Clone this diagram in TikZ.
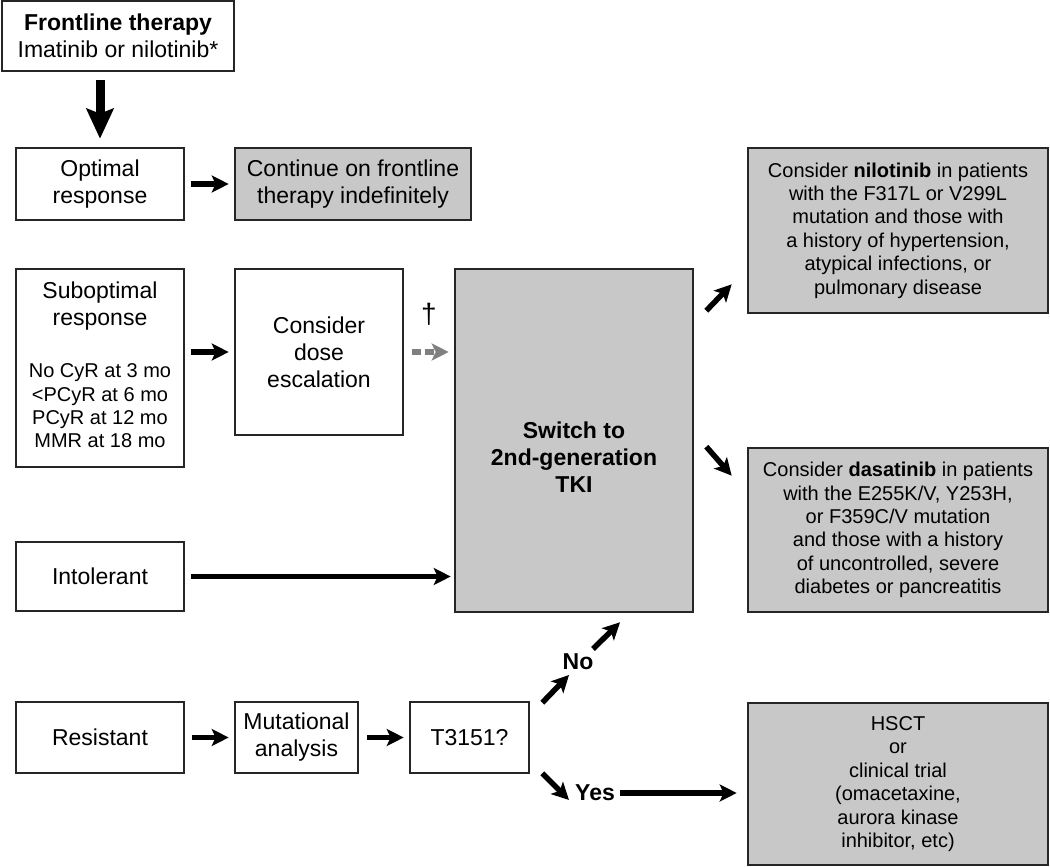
\documentclass[tikz,border=0pt]{standalone}
\usepackage{fontspec}
\setmainfont{Liberation Sans}
\usetikzlibrary{arrows.meta}
\definecolor{boxgray}{RGB}{200,200,200}
\definecolor{dashgray}{RGB}{128,128,128}
\begin{document}
\begin{tikzpicture}[x=1pt,y=-1pt,
	box/.style={draw=black!85,line width=2.6pt,align=center,inner sep=0pt,font=\fontsize{23}{27}\selectfont},
	graybox/.style={box,fill=boxgray},
	small/.style={align=center,inner sep=0pt,font=\fontsize{20}{23.4}\selectfont},
	big/.style={align=center,inner sep=0pt,font=\fontsize{23}{27}\selectfont},
	arr/.style={line width=5.5pt,-{Stealth[length=17pt,width=17pt,inset=4pt]}}]
\useasboundingbox (0,0) rectangle (1050,867);
% left column
\node[box,minimum width=232pt,minimum height=70pt] (front) at (118,36) {\textbf{Frontline therapy}\\Imatinib or nilotinib*};
\node[box,minimum width=168pt,minimum height=72pt] (opt) at (100,184) {Optimal\\response};
\node[box,minimum width=168pt,minimum height=198pt] (sub) at (100,368) {};
\node[big] (subtitle) at (100,306.5) {Suboptimal\\response};
\node[small] (sublist) at (100,406) {No CyR at 3 mo\\<PCyR at 6 mo\\PCyR at 12 mo\\MMR at 18 mo};
\node[box,minimum width=168pt,minimum height=69pt] (intol) at (100,576.5) {Intolerant};
\node[box,minimum width=168pt,minimum height=71pt] (resist) at (100,737.5) {Resistant};
% middle
\node[graybox,minimum width=236pt,minimum height=72pt] (cont) at (353,184) {Continue on frontline\\therapy indefinitely};
\node[box,minimum width=168pt,minimum height=166pt] (dose) at (319,352) {Consider\\dose\\escalation};
\node[box,minimum width=123pt,minimum height=71pt] (mut) at (296.5,737.5) {Mutational\\analysis};
\node[box,minimum width=119pt,minimum height=71pt] (tcheck) at (469.5,737.5) {T3151?};
\node[graybox,minimum width=238pt,minimum height=343pt] (switch) at (574,440.5) {};
\node[big] (switchtxt) at (574,457) {\textbf{Switch to}\\\textbf{2nd-generation}\\\textbf{TKI}};
% right column
\node[graybox,small,draw=black!85,line width=2.6pt,minimum width=300pt,minimum height=165pt] (nilo) at (898,230.5) {Consider \textbf{nilotinib} in patients\\with the F317L or V299L\\mutation and those with\\a history of hypertension,\\atypical infections, or\\pulmonary disease};
\node[graybox,small,draw=black!85,line width=2.6pt,minimum width=300pt,minimum height=164pt] (dasa) at (898,530) {Consider \textbf{dasatinib} in patients\\with the E255K/V, Y253H,\\or F359C/V mutation\\and those with a history\\of uncontrolled, severe\\diabetes or pancreatitis};
\node[graybox,small,draw=black!85,line width=2.6pt,minimum width=300pt,minimum height=162pt] (hsct) at (898,784) {HSCT\\or\\clinical trial\\(omacetaxine,\\aurora kinase\\inhibitor, etc)};
% labels
\node[big,font=\fontsize{28}{32}\selectfont] (dag) at (429,314) {\textdagger};
\node[big,font=\fontsize{23}{27}\selectfont\bfseries] (no) at (578,662) {No};
\node[big,font=\fontsize{23}{27}\selectfont\bfseries] (yes) at (595,793) {Yes};
% arrows
\draw [line width=9pt,-{Stealth[length=30pt,width=27pt,inset=5pt]}] ([yshift=-8]front.south -| opt) -- ([yshift=8]opt.north);
\draw [arr] ([xshift=6]opt.east) -- ([xshift=-5]cont.west);
\draw [arr] ([xshift=6]sub.east |- dose) -- ([xshift=-5]dose.west);
\draw [arr,dashgray,dash pattern=on 9pt off 4pt] ([xshift=8]dose.east) -- ([xshift=-5]switch.west |- dose);
\draw [arr] ([xshift=6]intol.east) -- ([xshift=-3]switch.west |- intol);
\draw [arr] ([xshift=12,yshift=-43]switch.north east) -- ([xshift=-15,yshift=30]nilo.south west);
\draw [arr] ([xshift=12,yshift=-179]switch.north east) -- ([xshift=-15,yshift=-29]dasa.north west);
\draw [arr] ([xshift=7]resist.east) -- ([xshift=-5]mut.west);
\draw [arr] ([xshift=8]mut.east) -- ([xshift=-5]tcheck.west);
\draw [arr] ([xshift=12,yshift=-2]tcheck.north east) -- ([xshift=-9,yshift=-13]no.center);
\draw [arr] ([xshift=15,yshift=13]no.center) -- ([xshift=46,yshift=-9]switch.south);
\draw [arr] ([xshift=12,yshift=1]tcheck.south east) -- ([xshift=-26,yshift=-7]yes.center);
\draw [arr] ([xshift=5]yes.east) -- ([xshift=-10]hsct.west |- yes);
\end{tikzpicture}
\end{document}
